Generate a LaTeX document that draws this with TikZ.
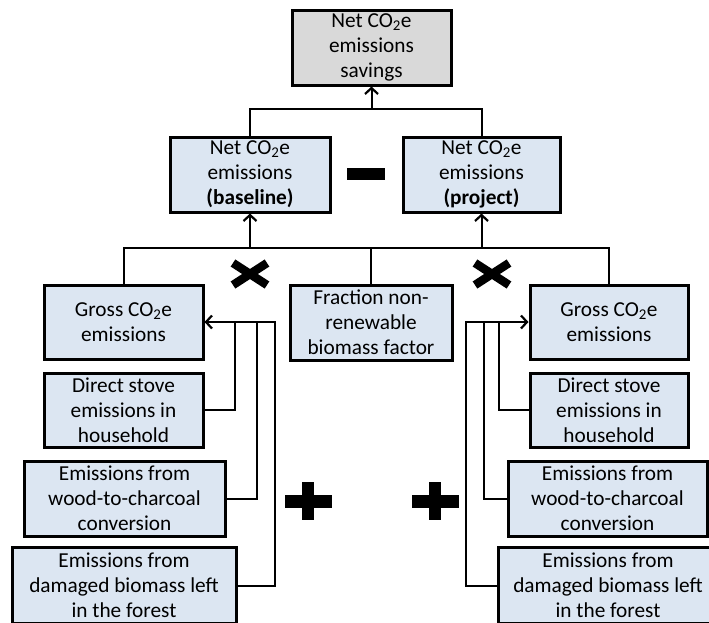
\documentclass[tikz,border=0pt]{standalone}
\usepackage{fontspec}
\setmainfont{Carlito}
\usetikzlibrary{arrows.meta,calc}
\definecolor{boxblue}{HTML}{DCE6F2}
\definecolor{boxgray}{HTML}{D9D9D9}
\begin{document}
\begin{tikzpicture}[x=1pt,y=-1pt,
  box/.style={draw=black,line width=3pt,fill=boxblue,inner sep=0pt,align=center,
    font=\fontsize{21.3}{25}\selectfont},
  conn/.style={line width=2pt},
  arr/.style={line width=2pt,-{Straight Barb[length=6pt,width=13pt,line width=2.2pt]}}
]
\useasboundingbox (0,0) rectangle (709,622);
\fill[white] (0,0) rectangle (709,622);

% nodes
\node[box,fill=boxgray,minimum width=159pt,minimum height=75pt] (top) at (371.5,47.5) {Net CO\textsubscript{2}e\\emissions\\savings};
\node[box,minimum width=160pt,minimum height=75pt] (base) at (250,174.5) {Net CO\textsubscript{2}e\\emissions\\\textbf{(baseline)}};
\node[box,minimum width=157pt,minimum height=75pt] (proj) at (481.5,174.5) {Net CO\textsubscript{2}e\\emissions\\\textbf{(project)}};

\node[box,minimum width=159pt,minimum height=74pt] (grossL) at (123.5,322) {Gross CO\textsubscript{2}e\\emissions};
\node[box,minimum width=159pt,minimum height=74pt] (directL) at (123.5,410) {Direct stove\\emissions in\\household};
\node[box,minimum width=201pt,minimum height=75pt] (woodL) at (124.5,498.5) {Emissions from\\wood-to-charcoal\\conversion};
\node[box,minimum width=224pt,minimum height=76pt] (damL) at (124,585.5) {Emissions from\\damaged biomass left\\in the forest};

\node[box,minimum width=162pt,minimum height=75pt] (frac) at (371,322.5) {Fraction non-\\renewable\\biomass factor};

\node[box,minimum width=158pt,minimum height=74pt] (grossR) at (609,322) {Gross CO\textsubscript{2}e\\emissions};
\node[box,minimum width=158pt,minimum height=74pt] (directR) at (609,410) {Direct stove\\emissions in\\household};
\node[box,minimum width=199pt,minimum height=75pt] (woodR) at (607.5,498.5) {Emissions from\\wood-to-charcoal\\conversion};
\node[box,minimum width=220pt,minimum height=76pt] (damR) at (608,585.5) {Emissions from\\damaged biomass left\\in the forest};

% junctions
\coordinate (j1) at (371.5,109);
\coordinate (j2) at (371,248);

% upper connectors
\draw[conn] (base.north) |- (j1) -| (proj.north);
\draw[arr] (j1) -- (top.south);

% lower connectors
\draw[conn] (grossL.north) |- (j2) -| (grossR.north);
\draw[conn] (frac.north) -- (j2);
\draw[arr] (base.south |- j2) -- (base.south);
\draw[arr] (proj.south |- j2) -- (proj.south);

% left sum
\draw[arr] (damL.east) -- ++(37,0) |- (grossL.east);
\draw[conn] (woodL.east) -| ($(grossL.east)+(52,0)$);
\draw[conn] (directL.east) -| ($(grossL.east)+(30,0)$);

% right sum
\draw[arr] (damR.west) -- ++(-31,0) |- (grossR.west);
\draw[conn] (woodR.west) -| ($(grossR.west)+(-45,0)$);
\draw[conn] (directR.west) -| ($(grossR.west)+(-30,0)$);

% operators
\fill (347,168) rectangle (385,180);
\foreach \cx in {250,492}{
  \draw[line width=8.5pt] (\cx-17,274-11) -- (\cx+17,274+11);
  \draw[line width=8.5pt] (\cx-17,274+11) -- (\cx+17,274-11);
}
\foreach \cx in {308,435}{
  \fill (\cx-6,482) rectangle (\cx+6,520);
  \fill (\cx-23.5,494.5) rectangle (\cx+23.5,507.5);
}
\end{tikzpicture}
\end{document}
